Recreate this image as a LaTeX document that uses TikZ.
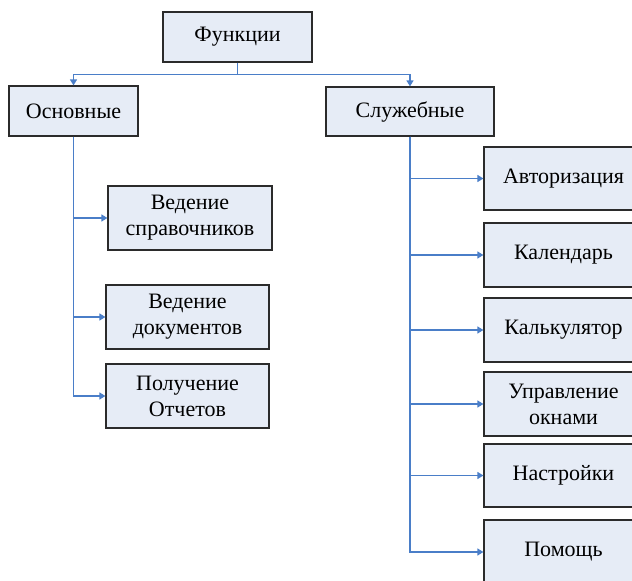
\documentclass[tikz,border=0pt]{standalone}
\usepackage{fontspec}
\setmainfont{Liberation Serif}
\usetikzlibrary{arrows.meta}
\definecolor{boxfill}{HTML}{E6ECF6}
\definecolor{boxline}{HTML}{2B2B2B}
\definecolor{conncol}{HTML}{4A7EC8}
\begin{document}
\begin{tikzpicture}[x=1pt,y=-1pt,
  box/.style={draw=boxline,line width=1.2pt,fill=boxfill,inner sep=0pt,align=center,
    font=\fontsize{22}{26}\selectfont},
  conn/.style={draw=conncol,line width=1.4pt,-{Triangle[length=6pt,width=7pt]}},
  plain/.style={draw=conncol,line width=1.4pt}]
\useasboundingbox (0,0) rectangle (632,581);
\clip (0,0) rectangle (632,581);
\node[box,minimum width=149pt,minimum height=50pt] (f) at (237.5,37) {Функции};
\node[box,minimum width=129pt,minimum height=50pt] (osn) at (73.5,111) {Основные};
\node[box,minimum width=168pt,minimum height=49pt] (sl) at (410,111.5) {Служебные};
\node[box,minimum width=164pt,minimum height=64pt] (l1) at (190,218) {Ведение\\справочников};
\node[box,minimum width=163pt,minimum height=64pt] (l2) at (187.5,317) {Ведение\\документов};
\node[box,minimum width=163pt,minimum height=64pt] (l3) at (187.5,396) {Получение\\Отчетов};
\node[box,minimum width=159pt,minimum height=63pt] (r1) at (563.5,178.5) {Авторизация};
\node[box,minimum width=159pt,minimum height=64pt] (r2) at (563.5,255) {Календарь};
\node[box,minimum width=159pt,minimum height=64pt] (r3) at (563.5,330) {Калькулятор};
\node[box,minimum width=159pt,minimum height=64pt] (r4) at (563.5,404) {Управление\\окнами};
\node[box,minimum width=159pt,minimum height=63pt] (r5) at (563.5,475.5) {Настройки};
\node[box,minimum width=159pt,minimum height=64pt] (r6) at (563.5,552) {Помощь};
\coordinate (j) at ([yshift=-12pt]f.south);
\draw[plain] (f.south) -- (j);
\draw[conn] (j) -| (osn.north);
\draw[conn] (j) -| (sl.north);
\foreach \n in {l1,l2,l3} \draw[conn] (osn.south) |- (\n.west);
\foreach \n in {r1,r2,r3,r4,r5,r6} \draw[conn] (sl.south) |- (\n.west);
\end{tikzpicture}
\end{document}
